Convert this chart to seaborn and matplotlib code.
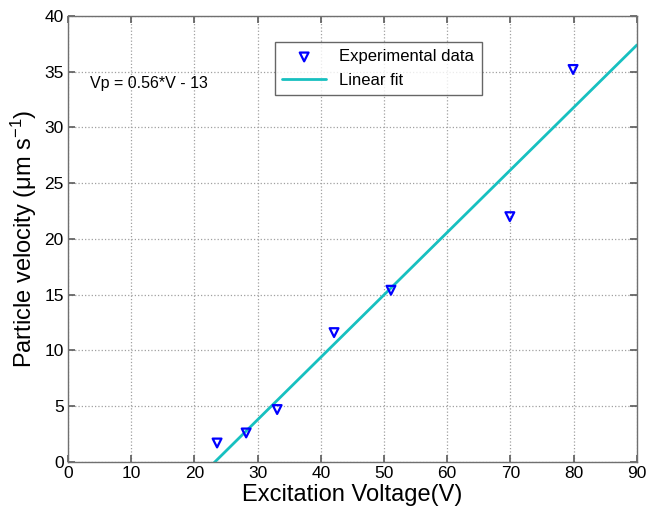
import matplotlib
matplotlib.use("Agg")
import matplotlib.pyplot as plt
import seaborn as sns
import pandas as pd

# ===== DATA =====
voltage = [23.6, 28.2, 33.1, 42.1, 51.1, 69.9, 79.9]
velocity = [1.7, 2.6, 4.7, 11.6, 15.4, 22.0, 35.2]

# linear fit end points (Vp = 0.56*V - 13)
fit_v = [22.0, 90.0]
fit_vp = [-0.7, 37.4]

x_ticks = [0, 10, 20, 30, 40, 50, 60, 70, 80, 90]
y_ticks = [0, 5, 10, 15, 20, 25, 30, 35, 40]

df = pd.DataFrame({"V": voltage, "Vp": velocity})
fit = pd.DataFrame({"V": fit_v, "Vp": fit_vp})

# ===== STYLE =====
sns.set_theme(style="ticks")
plt.rcParams["font.family"] = ["Liberation Sans", "DejaVu Sans"]
plt.rcParams["mathtext.default"] = "regular"
plt.rcParams.update({"text.color": "black", "axes.labelcolor": "black",
                     "xtick.color": "black", "ytick.color": "black"})

fig = plt.figure(figsize=(6.46, 5.15), dpi=100)
ax = fig.add_axes([0.105, 0.103, 0.881, 0.866])

sns.scatterplot(data=df, x="V", y="Vp", marker="v", s=40,
                facecolor="none", edgecolor="#0000ff", linewidth=1.6,
                label="Experimental data", ax=ax, zorder=3)
sns.lineplot(data=fit, x="V", y="Vp", color="#17c0c0", linewidth=2,
             label="Linear fit", ax=ax, zorder=2)

ax.set_xlim(0, 90)
ax.set_ylim(0, 40)
ax.set_xticks(x_ticks)
ax.set_yticks(y_ticks)
ax.grid(True, linestyle=":", color="#a0a0a0", linewidth=0.9)
ax.tick_params(direction="in", top=True, right=True, labelsize=12.5,
               length=5, pad=3)
ax.tick_params(which="both", color="#606060")
for s in ax.spines.values():
    s.set_color("#707070")
    s.set_linewidth(1)

ax.set_xlabel("Excitation Voltage(V)", fontsize=17, labelpad=2)
ax.set_ylabel("Particle velocity (μm s$^{-1}$)", fontsize=17, labelpad=4)

ax.text(3.5, 33.9, "Vp = 0.56*V - 13", fontsize=11.5, va="center")

leg = ax.legend(loc="upper left", bbox_to_anchor=(0.364, 0.942),
                borderaxespad=0, fontsize=12, frameon=True, fancybox=False,
                edgecolor="#404040", handlelength=2.6, borderpad=0.45)
leg.get_frame().set_linewidth(1)

plt.savefig("out.png", dpi=100)
